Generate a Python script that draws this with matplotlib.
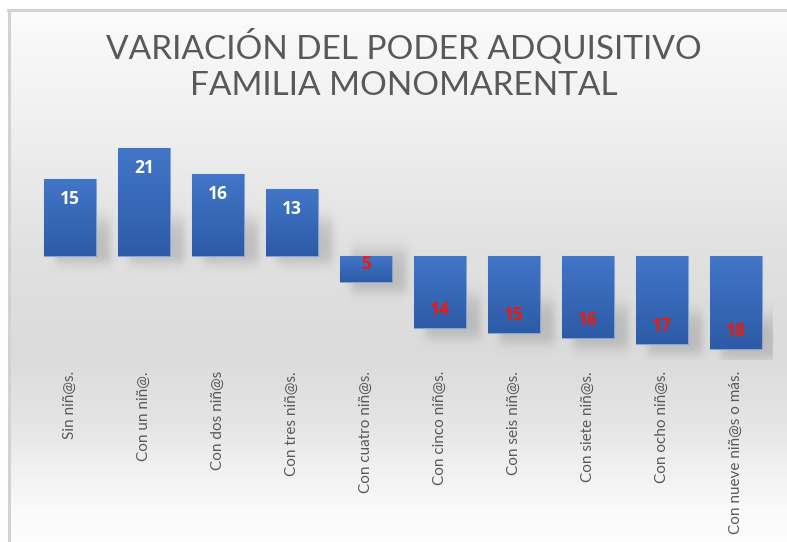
import matplotlib
matplotlib.use("Agg")
import matplotlib.pyplot as plt
import numpy as np

# ===== chart data =====
categories = [
    "Sin niñ@s.", "Con un niñ@.", "Con dos niñ@s", "Con tres niñ@s.",
    "Con cuatro niñ@s.", "Con cinco niñ@s.", "Con seis niñ@s.",
    "Con siete niñ@s.", "Con ocho niñ@s.", "Con nueve niñ@s o más.",
]
values = [15, 21, 16, 13, -5, -14, -15, -16, -17, -18]
title = "VARIACIÓN DEL PODER ADQUISITIVO\nFAMILIA MONOMARENTAL"
# ======================

W, H = 787, 542
fig = plt.figure(figsize=(W / 100, H / 100), dpi=100)
fig.patch.set_facecolor("white")

# background panel with vertical gray gradient
bg = fig.add_axes([0, 0, 1, 1], zorder=0)
bg.set_xlim(0, W)
bg.set_ylim(H, 0)
bg.axis("off")
stops_y = [10, 30, 130, 250, 350, 420, 470, 510, 542]
stops_c = [0xfd, 0xf9, 0xef, 0xe1, 0xdb, 0xe4, 0xf1, 0xfa, 0xfd]
yy = np.arange(10, H)
shade = np.interp(yy, stops_y, stops_c) / 255.0
grad = np.repeat(shade[:, None], 2, axis=1)
bg.imshow(np.dstack([grad, grad, grad]), extent=(9, W, H, 10),
          aspect="auto", interpolation="bilinear")
bg.plot([9, 9], [10, H], color="#d2d2d2", lw=2.2)
bg.plot([8, W], [10, 10], color="#d2d2d2", lw=2.2)
bg.text(W / 2 + 10, 65, title, ha="center", va="center", fontsize=24,
        color="#595959", family="Lato", linespacing=1.25)

# main chart axes
ax = fig.add_axes([33 / W, 1 - 360 / H, 740 / W, 230 / H], zorder=1)
ax.patch.set_alpha(0)
for s in ax.spines.values():
    s.set_visible(False)
x = np.arange(len(values))
ax.set_xlim(-0.5, len(values) - 0.5)
ax.set_ylim(-20.19, 24.47)

width = 0.7


def soft(t, s):
    return 0.5 * (1 + np.tanh(t / s))


# soft shadows (blurred rectangles behind the bars)
for xi, v in zip(x, values):
    xl, xr = xi - width / 2 + 0.15, xi + width / 2 + 0.2
    if v > 0:
        yb, yt = -1.5, min(v, 7)
    else:
        yb, yt = v - 2.0, v + 6
    ex0, ex1 = xl - 0.3, xr + 0.3
    ey0, ey1 = yb - 4, yt + 4
    gx = np.linspace(ex0, ex1, 80)
    gy = np.linspace(ey1, ey0, 80)
    X, Y = np.meshgrid(gx, gy)
    a = 0.32 * soft(X - xl, 0.07) * soft(xr - X, 0.07) * soft(Y - yb, 1.3) * soft(yt - Y, 2.0)
    rgba = np.zeros((80, 80, 4))
    rgba[..., :3] = 0.45
    rgba[..., 3] = a
    ax.imshow(rgba, extent=(ex0, ex1, ey0, ey1), aspect="auto",
              interpolation="bilinear", zorder=1)

bars = ax.bar(x, values, width=width, color="#3567b7", edgecolor="#86a4d8",
              linewidth=0.8, zorder=2)
bar_grad = np.linspace(0, 1, 64)[:, None]
top_c = np.array([0x42, 0x76, 0xc8]) / 255
bot_c = np.array([0x2d, 0x5b, 0xa7]) / 255
img = top_c[None, None, :] * (1 - bar_grad[:, :, None]) + bot_c[None, None, :] * bar_grad[:, :, None]
for b in bars:
    x0, y0 = b.get_x(), b.get_y()
    w, h = b.get_width(), b.get_height()
    lo, hi = min(y0, y0 + h), max(y0, y0 + h)
    im = ax.imshow(img, extent=(x0, x0 + w, lo, hi), aspect="auto",
                   interpolation="bilinear", zorder=2.5)
    im.set_clip_path(b)

# value labels inside bar ends
for xi, v in zip(x, values):
    if v >= 0:
        ax.annotate(str(v), (xi, v), xytext=(0, -14.5), textcoords="offset points",
                    ha="center", va="center", fontsize=12.5, fontweight="bold",
                    color="white", family="Open Sans", zorder=4)
    else:
        ax.annotate(str(abs(v)), (xi, v), xytext=(0, 13), textcoords="offset points",
                    ha="center", va="center", fontsize=12.5, fontweight="bold",
                    color="#f01a0a", family="Open Sans", zorder=4)

ax.set_yticks([])
ax.set_xticks(x)
ax.set_xticklabels(categories, rotation=90, fontsize=11, color="#595959",
                   family="Lato")
ax.tick_params(axis="x", length=0, pad=8)

fig.savefig("out.png", dpi=100, facecolor="white")
